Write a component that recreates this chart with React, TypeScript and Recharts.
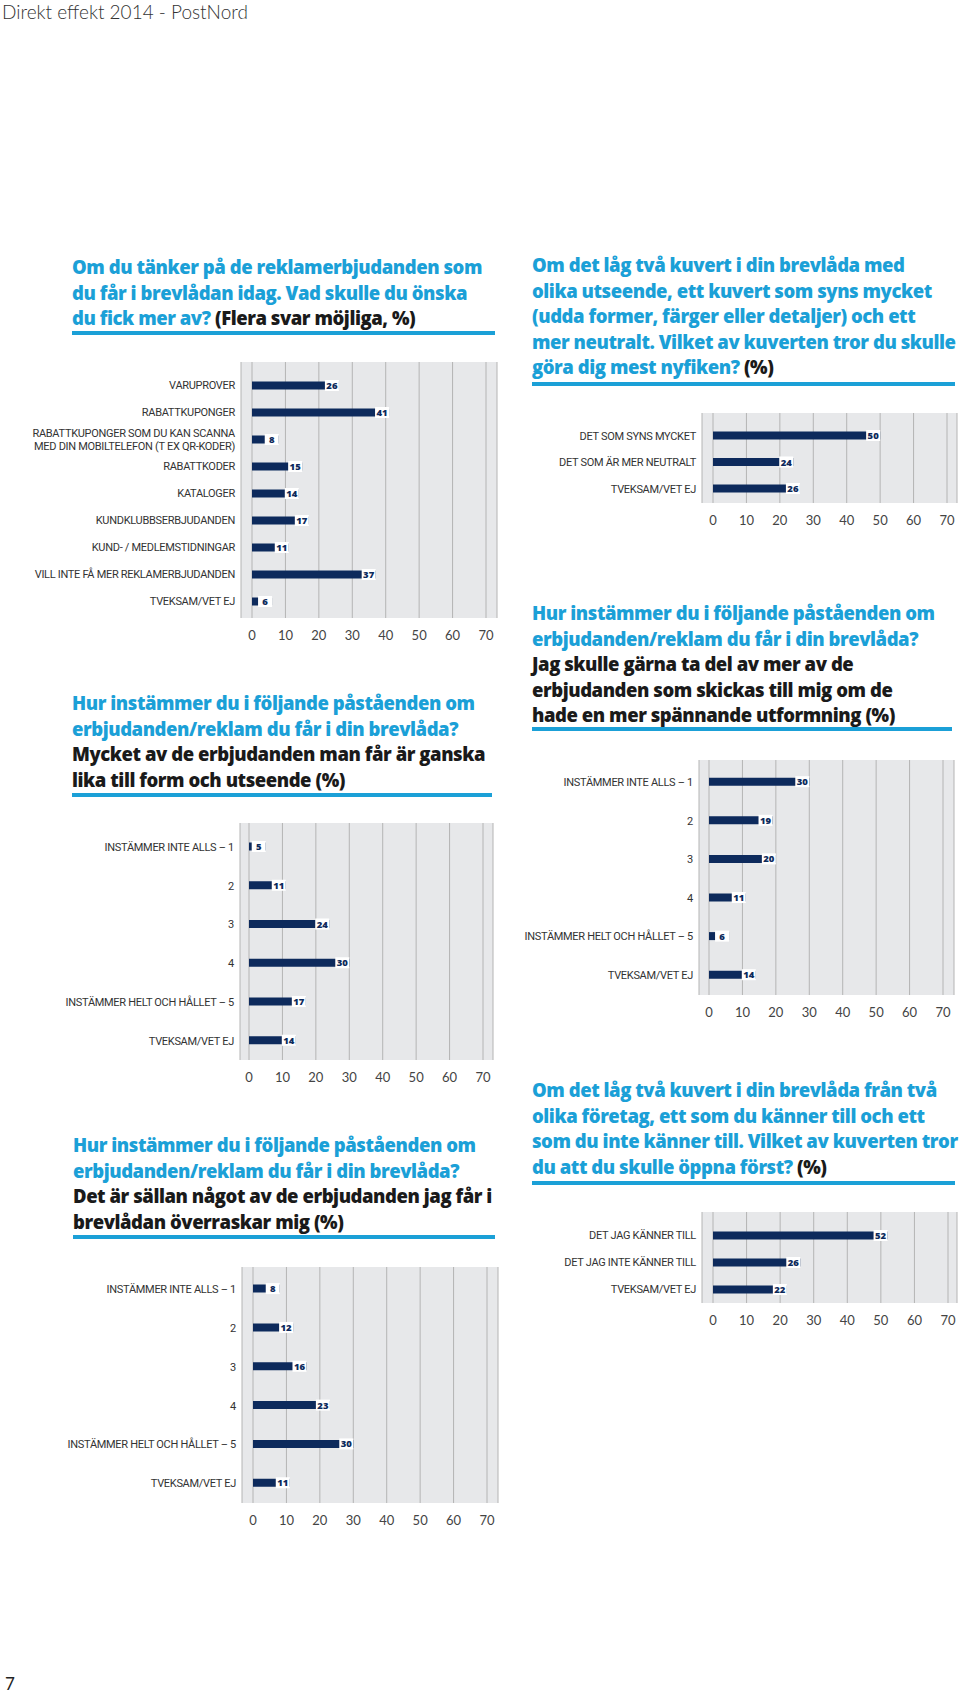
import React from 'react'
import { BarChart, Bar, XAxis, YAxis, CartesianGrid, LabelList } from 'recharts'

const axisTicks = [0, 10, 20, 30, 40, 50, 60, 70]

const wishCategories = [
  'VARUPROVER',
  'RABATTKUPONGER',
  'RABATTKUPONGER SOM DU KAN SCANNA\nMED DIN MOBILTELEFON (T EX QR-KODER)',
  'RABATTKODER',
  'KATALOGER',
  'KUNDKLUBBSERBJUDANDEN',
  'KUND- / MEDLEMSTIDNINGAR',
  'VILL INTE FÅ MER REKLAMERBJUDANDEN',
  'TVEKSAM/VET EJ',
]
const wishValues = [26, 41, 8, 15, 14, 17, 11, 37, 6]

const envelopeCategories = ['DET SOM SYNS MYCKET', 'DET SOM ÄR MER NEUTRALT', 'TVEKSAM/VET EJ']
const envelopeValues = [50, 24, 26]

const scaleCategories = [
  'INSTÄMMER INTE ALLS – 1',
  '2',
  '3',
  '4',
  'INSTÄMMER HELT OCH HÅLLET – 5',
  'TVEKSAM/VET EJ',
]
const similarValues = [5, 11, 24, 30, 17, 14]
const excitingValues = [30, 19, 20, 11, 6, 14]
const surpriseValues = [8, 12, 16, 23, 30, 11]

const senderCategories = ['DET JAG KÄNNER TILL', 'DET JAG INTE KÄNNER TILL', 'TVEKSAM/VET EJ']
const senderValues = [52, 26, 22]

const BLUE = '#1ba0d7'
const NAVY = '#0d2a5c'
const TITLE_FONT = '"Open Sans", Lato, sans-serif'
const TEXT_FONT = 'Lato, "Open Sans", sans-serif'
const LABEL_FONT = '"Liberation Sans Narrow", Roboto, sans-serif'

function CategoryTick(props: any) {
  const { x, y, payload } = props
  const lines = String(payload.value).split('\n')
  const start = -((lines.length - 1) * 13) / 2
  return (
    <text x={x} y={y} textAnchor="end" fill="#333" fontSize={11} letterSpacing={-0.3} fontFamily={LABEL_FONT}>
      {lines.map((l, i) => (
        <tspan key={i} x={x} dy={i === 0 ? start + 4 : 13}>
          {l}
        </tspan>
      ))}
    </text>
  )
}

function NumberTick(props: any) {
  const { x, y, payload } = props
  return (
    <text x={x} y={y + 15} textAnchor="middle" dominantBaseline="central" fill="#444" fontSize={13} fontFamily={TEXT_FONT}>
      {payload.value}
    </text>
  )
}

function ValueLabel(props: any) {
  const vb = props.viewBox ?? {}
  const x = Number(props.x ?? vb.x)
  const y = Number(props.y ?? vb.y)
  const w = Number(props.width ?? vb.width)
  const h = Number(props.height ?? vb.height)
  const end = x + w
  const cy = y + h / 2
  return (
    <g>
      <rect x={end - 14} y={cy - 5.5} width={14} height={11} fill="#fff" />
      <text x={end - 7} y={cy} textAnchor="middle" dominantBaseline="central" fill={NAVY} fontSize={9.5} fontWeight={800} fontFamily={TITLE_FONT}>
        {props.value}
      </text>
    </g>
  )
}

interface HBarsProps {
  categories: string[]
  values: number[]
  left: number
  top: number
  right: number
  bottom: number
  padTop: number
  padBottom: number
  padLeft: number
  padRight: number
}

function HBars({ categories, values, left, top, right, bottom, padTop, padBottom, padLeft, padRight }: HBarsProps) {
  const data = categories.map((name, i) => ({ name, value: values[i] }))
  return (
    <div style={{ position: 'absolute', left: 0, top }}>
      <BarChart
        width={right + 3}
        height={bottom - top + 30}
        data={data}
        layout="vertical"
        margin={{ top: 0, right: 3, bottom: 0, left: 0 }}
      >
        <CartesianGrid horizontal={false} stroke="#b4b4b4" fill="#e7e8ea" />
        <XAxis
          type="number"
          domain={[0, 70]}
          ticks={axisTicks}
          padding={{ left: padLeft, right: padRight }}
          axisLine={false}
          tickLine={false}
          tickSize={0}
          height={30}
          tick={<NumberTick />}
          interval={0}
        />
        <YAxis
          type="category"
          dataKey="name"
          width={left}
          axisLine={false}
          tickLine={false}
          tickSize={0}
          tickMargin={6}
          padding={{ top: padTop, bottom: padBottom }}
          tick={<CategoryTick />}
          interval={0}
        />
        <Bar dataKey="value" fill={NAVY} barSize={8} isAnimationActive={false}>
          <LabelList dataKey="value" content={<ValueLabel />} />
        </Bar>
      </BarChart>
    </div>
  )
}

function Title({ x, top, width, underline, lines, darkFrom }: { x: number; top: number; width: number; underline: number; lines: string[]; darkFrom: [number, number] }) {
  const [dl, dc] = darkFrom
  return (
    <>
      {lines.map((line, i) => {
        const blueText = i < dl ? line : i === dl ? line.slice(0, dc) : ''
        const darkText = i < dl ? '' : i === dl ? line.slice(dc) : line
        return (
          <div
            key={i}
            style={{
              position: 'absolute',
              left: x,
              top: top + i * 25.5,
              fontFamily: TITLE_FONT,
              fontWeight: 800,
              fontSize: 18.5,
              lineHeight: '25.5px',
              whiteSpace: 'nowrap',
              letterSpacing: -0.45,
            }}
          >
            {blueText && <span style={{ color: BLUE }}>{blueText}</span>}
            {darkText && <span style={{ color: '#1a1a1a' }}>{darkText}</span>}
          </div>
        )
      })}
      <div style={{ position: 'absolute', left: x, top: underline - 2, width, height: 4, background: BLUE }} />
    </>
  )
}

const wishTitle = ['Om du tänker på de reklamerbjudanden som', 'du får i brevlådan idag. Vad skulle du önska', 'du fick mer av? (Flera svar möjliga, %)']
const envelopeTitle = [
  'Om det låg två kuvert i din brevlåda med',
  'olika utseende, ett kuvert som syns mycket',
  '(udda former, färger eller detaljer) och ett',
  'mer neutralt. Vilket av kuverten tror du skulle',
  'göra dig mest nyfiken? (%)',
]
const similarTitle = [
  'Hur instämmer du i följande påståenden om',
  'erbjudanden/reklam du får i din brevlåda?',
  'Mycket av de erbjudanden man får är ganska',
  'lika till form och utseende (%)',
]
const excitingTitle = [
  'Hur instämmer du i följande påståenden om',
  'erbjudanden/reklam du får i din brevlåda?',
  'Jag skulle gärna ta del av mer av de',
  'erbjudanden som skickas till mig om de',
  'hade en mer spännande utformning (%)',
]
const surpriseTitle = [
  'Hur instämmer du i följande påståenden om',
  'erbjudanden/reklam du får i din brevlåda?',
  'Det är sällan något av de erbjudanden jag får i',
  'brevlådan överraskar mig (%)',
]
const senderTitle = [
  'Om det låg två kuvert i din brevlåda från två',
  'olika företag, ett som du känner till och ett',
  'som du inte känner till. Vilket av kuverten tror',
  'du att du skulle öppna först? (%)',
]

export default function App() {
  return (
    <div style={{ position: 'absolute', left: 0, top: 0, width: 960, height: 1694, background: '#fff', overflow: 'hidden' }}>
      <div style={{ position: 'absolute', left: 2, top: 0, fontFamily: TEXT_FONT, fontWeight: 300, fontSize: 19, color: '#333' }}>
        Direkt effekt 2014 - PostNord
      </div>

      <Title x={72} top={254} width={423} underline={333} lines={wishTitle} darkFrom={[2, 16]} />
      <HBars categories={wishCategories} values={wishValues} left={241} top={362} right={497} bottom={618} padTop={9.5} padBottom={3.5} padLeft={11} padRight={11} />

      <Title x={532} top={252} width={423} underline={384} lines={envelopeTitle} darkFrom={[4, 23]} />
      <HBars categories={envelopeCategories} values={envelopeValues} left={702} top={413} right={957} bottom={503} padTop={9.5} padBottom={1} padLeft={11} padRight={10} />

      <Title x={72} top={690} width={420} underline={795} lines={similarTitle} darkFrom={[2, 0]} />
      <HBars categories={scaleCategories} values={similarValues} left={240} top={823} right={493} bottom={1060} padTop={4.5} padBottom={0} padLeft={9} padRight={10} />

      <Title x={532} top={600} width={420} underline={729} lines={excitingTitle} darkFrom={[2, 0]} />
      <HBars categories={scaleCategories} values={excitingValues} left={699} top={760} right={954} bottom={995} padTop={2.7} padBottom={0.7} padLeft={10} padRight={11} />

      <Title x={73} top={1132} width={422} underline={1237} lines={surpriseTitle} darkFrom={[2, 0]} />
      <HBars categories={scaleCategories} values={surpriseValues} left={242} top={1267} right={498} bottom={1503} padTop={2.6} padBottom={0.4} padLeft={11} padRight={11} />

      <Title x={532} top={1077} width={423} underline={1183} lines={senderTitle} darkFrom={[3, 30]} />
      <HBars categories={senderCategories} values={senderValues} left={702} top={1212} right={957} bottom={1303} padTop={9.5} padBottom={0.5} padLeft={11} padRight={9} />

      <div style={{ position: 'absolute', left: 5, top: 1673, fontFamily: TEXT_FONT, fontSize: 17, color: '#222' }}>7</div>
    </div>
  )
}
